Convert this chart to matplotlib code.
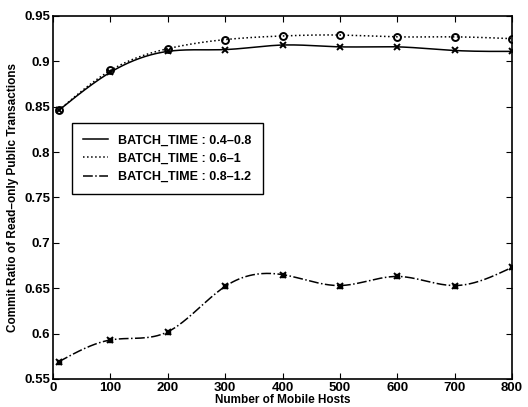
import numpy as np
import matplotlib
matplotlib.use("Agg")
import matplotlib.pyplot as plt

plt.rcParams['font.family'] = ['Liberation Sans', 'DejaVu Sans']

hosts = [10, 100, 200, 300, 400, 500, 600, 700, 800]
batch_04_08 = [0.846, 0.888, 0.911, 0.913, 0.918, 0.916, 0.916, 0.912, 0.911]
batch_06_1 = [0.846, 0.890, 0.914, 0.924, 0.928, 0.929, 0.927, 0.927, 0.925]
batch_08_12 = [0.569, 0.593, 0.602, 0.652, 0.665, 0.653, 0.663, 0.653, 0.673]
labels = ['BATCH_TIME : 0.4\u20130.8', 'BATCH_TIME : 0.6\u20131', 'BATCH_TIME : 0.8\u20131.2']


def smooth(x, y, n=400):
    # natural cubic spline through the points, just for drawing the curve
    x = np.asarray(x, float)
    y = np.asarray(y, float)
    k = len(x)
    h = np.diff(x)
    A = np.zeros((k, k))
    b = np.zeros(k)
    A[0, 0] = A[-1, -1] = 1
    for i in range(1, k - 1):
        A[i, i - 1] = h[i - 1]
        A[i, i] = 2 * (h[i - 1] + h[i])
        A[i, i + 1] = h[i]
        b[i] = 6 * ((y[i + 1] - y[i]) / h[i] - (y[i] - y[i - 1]) / h[i - 1])
    m = np.linalg.solve(A, b)
    xs = np.linspace(x[0], x[-1], n)
    idx = np.clip(np.searchsorted(x, xs) - 1, 0, k - 2)
    x0, x1 = x[idx], x[idx + 1]
    hh = x1 - x0
    t0, t1 = x1 - xs, xs - x0
    ys = (m[idx] * t0 ** 3 + m[idx + 1] * t1 ** 3) / (6 * hh) \
        + (y[idx] / hh - m[idx] * hh / 6) * t0 \
        + (y[idx + 1] / hh - m[idx + 1] * hh / 6) * t1
    return xs, ys


fig = plt.figure(figsize=(5.28, 4.07), dpi=100)
ax = fig.add_axes([0.1004, 0.0688, 0.8693, 0.8919])

styles = [('-', 'x', 'k'), (':', 'o', 'none'), ('-.', 'x', 'k')]
series = [batch_04_08, batch_06_1, batch_08_12]
for vals, lab, (ls, mk, fc) in zip(series, labels, styles):
    xs, ys = smooth(hosts, vals)
    ax.plot(xs, ys, color='k', linestyle=ls, linewidth=1.1, label=lab)
    ax.plot(hosts, vals, linestyle='none', marker=mk, color='k',
            markerfacecolor=fc, markersize=5, markeredgewidth=1.4)
# the low series has a blotted star-like marker
ax.plot(hosts, batch_08_12, linestyle='none', marker='s', color='k', markersize=2.5)

ax.set_xlim(0, 800)
ax.set_ylim(0.55, 0.95)
ax.set_xticks(range(0, 801, 100))
ax.set_yticks(np.arange(0.55, 0.951, 0.05))
ax.set_yticklabels(['0.55', '0.6', '0.65', '0.7', '0.75', '0.8', '0.85', '0.9', '0.95'])
ax.tick_params(direction='in', top=True, right=True, length=4, labelsize=9.5, pad=2)
for t in ax.get_xticklabels() + ax.get_yticklabels():
    t.set_fontweight('bold')
for s in ax.spines.values():
    s.set_linewidth(1.2)

ax.set_xlabel('Number of Mobile Hosts', fontsize=8.5, fontweight='bold', labelpad=0)
ax.set_ylabel('Commit Ratio of Read\u2013only Public Transactions', fontsize=8.5,
              fontweight='bold', labelpad=4)

leg = ax.legend(loc='upper left', bbox_to_anchor=(0.028, 0.722), fancybox=False,
                edgecolor='k', framealpha=1, borderpad=0.9, handlelength=2.0,
                labelspacing=0.5, prop={'size': 9, 'weight': 'bold'})
leg.get_frame().set_linewidth(1.0)

fig.savefig('out.png', dpi=100)
